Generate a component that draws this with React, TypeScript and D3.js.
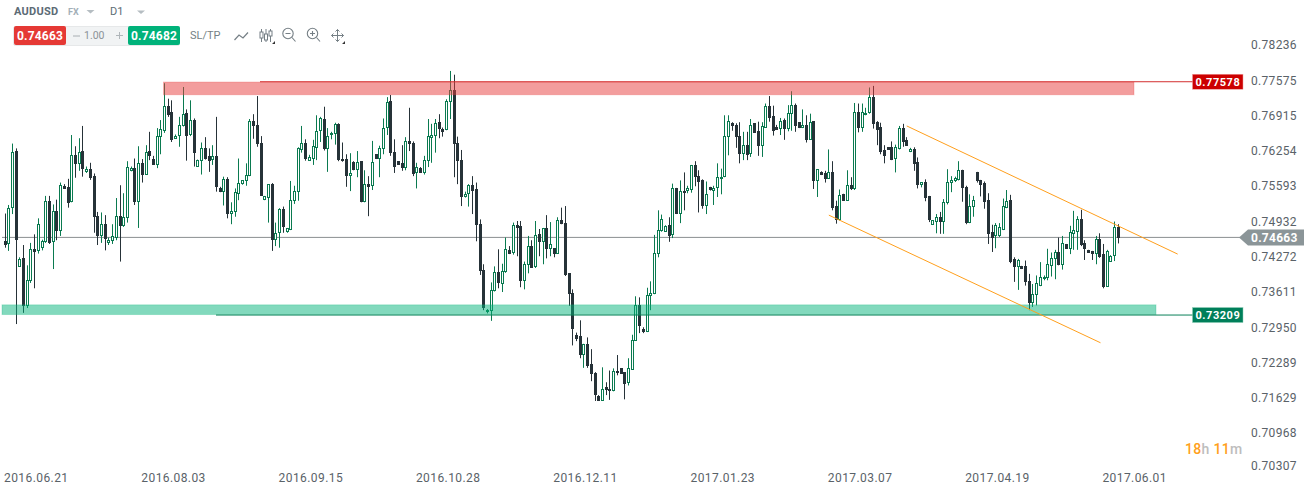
import React from "react";
import * as d3 from "d3";

// Prices in units of 0.0001, one entry per daily candle
const opens = [
7459,7453,7521,7628,7411,7427,7338,7385,7444,7440,7447,7457,7534,7457,7516,7479,7562,7561,7532,7621,
7604,7628,7589,7594,7581,7507,7469,7492,7456,7460,7466,7507,7488,7502,7591,7597,7533,7605,7584,7628,
7614,7602,7654,7666,7712,7701,7651,7656,7674,7699,7658,7686,7599,7609,7633,7618,7612,7618,7558,7552,
7575,7511,7513,7548,7566,7571,7582,7684,7676,7644,7536,7541,7566,7462,7474,7519,7476,7481,7535,7552,
7630,7644,7610,7614,7634,7665,7688,7631,7658,7659,7678,7614,7613,7582,7607,7593,7609,7533,7566,7563,
7622,7614,7631,7671,7721,7626,7609,7605,7597,7647,7644,7586,7597,7587,7609,7653,7656,7682,7669,7667,
7719,7742,7644,7612,7542,7547,7564,7556,7492,7406,7327,7329,7365,7402,7379,7402,7442,7437,7489,7487,
7385,7414,7451,7410,7472,7458,7484,7445,7446,7436,7499,7493,7399,7363,7283,7281,7246,7266,7229,7213,
7170,7160,7186,7183,7179,7217,7221,7214,7193,7218,7273,7339,7294,7289,7357,7361,7436,7479,7477,7489,
7470,7558,7510,7554,7554,7555,7601,7582,7573,7526,7560,7554,7558,7577,7579,7655,7680,7676,7657,7623,
7640,7622,7680,7665,7638,7672,7712,7693,7673,7670,7687,7669,7698,7715,7682,7672,7676,7649,7684,7571,
7588,7586,7576,7588,7525,7498,7548,7535,7565,7557,7702,7672,7697,7700,7729,7682,7673,7630,7635,7635,
7613,7632,7671,7648,7627,7631,7607,7565,7570,7543,7490,7496,7505,7496,7530,7568,7572,7573,7593,7561,
7493,7524,7588,7573,7568,7536,7476,7468,7468,7481,7522,7536,7426,7410,7413,7413,7384,7343,7358,7376,
7389,7391,7413,7425,7439,7415,7453,7445,7473,7477,7501,7455,7443,7441,7435,7463,7436,7374,7421,7431,7486,
];
const highs = [
7511,7527,7642,7633,7429,7452,7414,7456,7472,7502,7462,7544,7544,7528,7537,7569,7566,7576,7658,7637,
7652,7675,7599,7606,7586,7514,7513,7508,7466,7491,7540,7564,7549,7609,7599,7614,7637,7613,7639,7664,
7619,7671,7686,7755,7726,7723,7659,7692,7748,7706,7723,7689,7612,7644,7654,7633,7639,7692,7561,7580,
7579,7532,7558,7614,7573,7605,7688,7697,7731,7656,7544,7566,7568,7494,7521,7524,7484,7572,7563,7635,
7675,7650,7621,7649,7695,7692,7711,7671,7664,7681,7680,7644,7622,7624,7609,7628,7609,7592,7581,7647,
7622,7638,7689,7729,7733,7650,7609,7639,7654,7709,7646,7606,7598,7619,7688,7679,7688,7697,7672,7725,
7778,7771,7655,7630,7552,7566,7581,7569,7500,7416,7332,7382,7412,7444,7417,7466,7450,7494,7497,7497,
7421,7469,7461,7497,7482,7484,7508,7495,7446,7504,7522,7525,7399,7369,7288,7311,7267,7279,7257,7214,
7171,7223,7195,7217,7221,7246,7221,7214,7240,7284,7356,7354,7298,7372,7384,7471,7517,7509,7489,7504,
7567,7559,7573,7588,7563,7602,7609,7592,7575,7571,7561,7563,7605,7595,7695,7695,7682,7680,7682,7664,
7664,7688,7680,7683,7682,7717,7731,7713,7677,7690,7689,7714,7740,7717,7682,7706,7695,7698,7684,7594,
7590,7591,7631,7609,7535,7556,7548,7592,7579,7718,7717,7717,7709,7747,7750,7684,7681,7639,7635,7646,
7640,7675,7679,7654,7634,7635,7616,7570,7575,7544,7498,7510,7514,7538,7594,7581,7580,7609,7593,7563,
7547,7544,7589,7574,7571,7549,7490,7493,7493,7539,7555,7546,7429,7426,7413,7423,7398,7379,7395,7420,
7395,7445,7438,7443,7466,7469,7454,7488,7516,7506,7518,7461,7443,7441,7469,7474,7454,7443,7433,7496,7491,
];
const lows = [
7447,7441,7510,7304,7411,7325,7334,7381,7371,7436,7442,7456,7454,7407,7461,7469,7557,7522,7532,7578,
7591,7580,7587,7574,7475,7452,7456,7442,7452,7454,7461,7421,7486,7494,7590,7527,7484,7569,7584,7611,
7602,7596,7622,7662,7692,7645,7651,7636,7674,7610,7656,7599,7599,7584,7612,7589,7602,7552,7551,7526,
7502,7491,7505,7536,7565,7563,7581,7651,7636,7544,7536,7494,7441,7450,7447,7475,7475,7480,7529,7535,
7625,7610,7610,7602,7611,7645,7629,7589,7650,7640,7609,7608,7561,7553,7592,7579,7532,7532,7506,7555,
7613,7579,7622,7658,7619,7587,7602,7591,7592,7628,7581,7558,7587,7584,7598,7606,7625,7652,7655,7667,
7688,7579,7566,7525,7541,7524,7510,7459,7396,7330,7324,7310,7365,7371,7364,7400,7435,7434,7431,7373,
7369,7399,7409,7409,7431,7416,7427,7431,7429,7436,7491,7394,7338,7264,7272,7240,7222,7222,7197,7160,
7160,7160,7171,7162,7178,7208,7211,7163,7189,7218,7273,7287,7287,7289,7330,7360,7429,7477,7477,7458,
7465,7510,7493,7517,7549,7550,7562,7513,7520,7510,7554,7527,7542,7547,7579,7620,7666,7634,7605,7611,
7611,7617,7662,7619,7617,7672,7683,7657,7668,7658,7649,7665,7666,7664,7671,7671,7644,7649,7557,7542,
7583,7569,7576,7517,7492,7498,7535,7535,7555,7555,7663,7664,7695,7698,7670,7639,7622,7605,7630,7611,
7588,7631,7636,7638,7626,7591,7558,7560,7534,7495,7490,7474,7473,7473,7528,7551,7570,7573,7533,7491,
7493,7505,7569,7543,7520,7454,7439,7446,7467,7480,7521,7418,7383,7368,7407,7376,7330,7336,7339,7375,
7386,7386,7393,7388,7414,7406,7445,7435,7443,7443,7450,7424,7438,7424,7416,7428,7371,7374,7421,7422,7455,
];
const closes = [
7452,7522,7627,7462,7425,7338,7387,7444,7439,7492,7459,7534,7456,7515,7478,7564,7557,7531,7620,7604,
7627,7595,7594,7578,7505,7469,7492,7464,7462,7469,7507,7488,7504,7599,7597,7533,7605,7584,7627,7619,
7602,7656,7669,7712,7696,7649,7656,7676,7697,7657,7686,7625,7611,7633,7614,7610,7618,7560,7552,7575,
7511,7515,7551,7569,7573,7584,7684,7674,7641,7544,7543,7566,7462,7474,7519,7486,7483,7537,7554,7633,
7644,7614,7616,7637,7665,7690,7631,7656,7661,7678,7612,7609,7582,7586,7593,7607,7533,7566,7561,7607,
7613,7633,7672,7719,7624,7599,7602,7597,7646,7642,7585,7599,7587,7612,7656,7658,7680,7670,7664,7721,
7742,7642,7610,7542,7548,7565,7554,7490,7404,7334,7331,7367,7402,7380,7404,7444,7436,7489,7484,7385,
7416,7451,7409,7471,7458,7483,7444,7453,7436,7498,7492,7396,7361,7295,7276,7246,7266,7226,7210,7171,
7160,7183,7181,7179,7217,7212,7211,7192,7221,7275,7339,7301,7289,7359,7363,7438,7481,7500,7487,7469,
7558,7510,7554,7550,7558,7601,7580,7570,7525,7548,7555,7558,7580,7580,7657,7684,7674,7655,7623,7640,
7620,7676,7662,7638,7674,7712,7690,7665,7668,7685,7669,7700,7715,7675,7671,7676,7649,7682,7571,7594,
7584,7575,7588,7521,7498,7546,7535,7565,7556,7702,7672,7702,7700,7729,7679,7667,7626,7619,7630,7611,
7635,7671,7645,7638,7631,7603,7565,7570,7541,7499,7498,7505,7495,7532,7570,7573,7577,7592,7558,7493,
7526,7536,7571,7565,7533,7473,7466,7489,7485,7525,7535,7421,7410,7424,7407,7383,7343,7360,7381,7393,
7393,7416,7427,7439,7415,7456,7445,7476,7480,7501,7452,7445,7438,7435,7463,7430,7373,7440,7432,7486,7466,
];

const priceTicks = ["0.78236","0.77575","0.76915","0.76254","0.75593","0.74932","0.74272","0.73611","0.72950","0.72289","0.71629","0.70968","0.70307"];
const dateLabels = ["2016.06.21","2016.08.03","2016.09.15","2016.10.28","2016.12.11","2017.01.23","2017.03.07","2017.04.19","2017.06.01"];
const dateStep = 37;
const symbol = "AUDUSD";
const bid = "0.74663";
const ask = "0.74682";
const resistance = "0.77578";
const support = "0.73209";
const resistanceZoneBottom = 0.7734;
const supportZoneTop = 0.7340;
// Trend channel: [candle index, price]
const channelUpper = [[243, 0.7675], [316, 0.7435]];
const channelLower = [[222, 0.7508], [295.2, 0.7269]];

const FONT = "Roboto, sans-serif";
const DARK = "#263238";
const GREEN = "#0a7a50";
const ORANGE = "#ff9f1c";

const x = d3.scaleLinear().domain([0, 300]).range([5, 1118.3]);
const y = d3.scaleLinear().domain([0.78236, 0.70307]).range([46.6, 470]);
const px = (v: number) => y(v / 1e4);
const trend = d3.line<number[]>().x((d) => x(d[0])).y((d) => y(d[1]));

function Candle({ i }: { i: number }) {
  const col = Math.floor(x(i));
  const up = closes[i] > opens[i];
  const c = up ? GREEN : DARK;
  const top = Math.round(px(Math.max(opens[i], closes[i])));
  const bot = Math.max(Math.round(px(Math.min(opens[i], closes[i]))), top + 2);
  return (
    <g>
      <line x1={col + 0.5} x2={col + 0.5} y1={px(highs[i])} y2={px(lows[i])} stroke={c} strokeWidth={1} />
      {up ? (
        <rect x={col - 0.5} y={top + 0.5} width={2} height={bot - top - 1} fill="#fff" stroke={c} strokeWidth={1} />
      ) : (
        <rect x={col - 1} y={top} width={3} height={bot - top} fill={c} />
      )}
    </g>
  );
}

export default function App() {
  const yBid = y(+bid);
  const yRes = y(+resistance);
  const ySup = y(+support);
  const gray = "#757f85";
  return (
    <svg width={1304} height={494} style={{ position: "absolute", left: 0, top: 0, background: "#fff" }} fontFamily={FONT}>
      {/* current price line */}
      <line x1={2} x2={1240} y1={yBid} y2={yBid} stroke="#8a8f91" strokeWidth={1} />

      {opens.map((_, i) => <Candle key={i} i={i} />)}

      {/* zones */}
      <rect x={163.5} y={yRes + 0.3} width={970.5} height={y(resistanceZoneBottom) - yRes} fill="rgba(232,60,60,0.5)" stroke="rgba(232,60,60,0.25)" strokeWidth={1} />
      <line x1={260} x2={1193} y1={yRes} y2={yRes} stroke="#d32f2f" strokeWidth={1} />
      <rect x={2} y={y(supportZoneTop)} width={1154} height={ySup - y(supportZoneTop) - 0.5} fill="rgba(0,178,120,0.49)" stroke="rgba(0,178,120,0.25)" strokeWidth={1} />
      <line x1={216} x2={1193} y1={ySup} y2={ySup} stroke="#0a8058" strokeWidth={1} />

      {/* channel */}
      <path d={trend(channelUpper) ?? ""} stroke={ORANGE} strokeWidth={1} fill="none" />
      <path d={trend(channelLower) ?? ""} stroke={ORANGE} strokeWidth={1} fill="none" />

      {/* price axis */}
      {priceTicks.map((t, i) => (
        <text key={t} x={1251} y={Math.min(y(+t) - 1.6, 465.5)} dy="0.36em" fontSize={12} fill="#5a6268" letterSpacing={0.32}>{t}</text>
      ))}
      {/* date axis */}
      {dateLabels.map((d, i) => (
        <text key={d} x={x(i * dateStep) - 1} y={482} fontSize={12} fill="#5a6268" letterSpacing={0.42}>{d}</text>
      ))}

      {/* level tags */}
      <rect x={1192.5} y={yRes - 7.5} width={50.5} height={15} fill="#cc0000" stroke="#f0a0a0" strokeWidth={0.5} />
      <text x={1217.9} y={yRes + 0.3} dy="0.36em" textAnchor="middle" fontSize={11} fontWeight={700} fill="#fff" letterSpacing={0.55}>{resistance}</text>
      <rect x={1192.5} y={ySup - 7.5} width={50.5} height={15} fill="#007f5a" stroke="#8fd0b8" strokeWidth={0.5} />
      <text x={1217.9} y={ySup + 0.3} dy="0.36em" textAnchor="middle" fontSize={11} fontWeight={700} fill="#fff" letterSpacing={0.55}>{support}</text>

      {/* current price tag */}
      <path d={`M1239,${yBid} L1248,${yBid - 8} H1304 V${yBid + 8} H1248 Z`} fill="#8b9598" />
      <text x={1251} y={yBid} dy="0.36em" fontSize={12} fontWeight={700} fill="#fff" letterSpacing={0.25}>{bid}</text>

      {/* countdown */}
      <text x={1185} y={454} fontSize={14} fontWeight={500} fill="#bdbdbd" letterSpacing={0.3}>
        <tspan fill={ORANGE}>18</tspan>h <tspan fill={ORANGE}>11</tspan>m
      </text>

      {/* toolbar */}
      <text x={14} y={15} fontSize={11} fontWeight={700} fill="#5c6b75" letterSpacing={0.25}>{symbol}</text>
      <text x={68} y={15} fontSize={9} fontWeight={700} fill="#a3b0b8">FX</text>
      <path d="M86.5,10 h8 l-4,3.5 z M137,10.5 h8 l-4,3.5 z" fill="#b5bdc2" />
      <text x={110} y={15} fontSize={11} fill="#5c6b75">D1</text>

      <rect x={13.5} y={26.5} width={166} height={19} fill="#f1f3f4" stroke="#e6e8e9" strokeWidth={1} rx={2} />
      <rect x={14} y={26} width={52} height={19} rx={2} fill="#e53935" />
      <rect x={128} y={26} width={52} height={19} rx={2} fill="#00b27a" />
      <text x={40} y={35.5} dy="0.36em" textAnchor="middle" fontSize={12} fontWeight={700} fill="#fff" letterSpacing={0.2}>{bid}</text>
      <text x={154} y={35.5} dy="0.36em" textAnchor="middle" fontSize={12} fontWeight={700} fill="#fff" letterSpacing={0.2}>{ask}</text>
      <path d="M73,36 h7" stroke="#a8aeb2" strokeWidth={1} />
      <text x={84} y={35.5} dy="0.36em" fontSize={10.5} fill="#8b9297">1.00</text>
      <path d="M116,35.5 h7 M119.5,32 v7" stroke="#b0b6ba" strokeWidth={1} />
      <text x={190} y={35.5} dy="0.36em" fontSize={11} fill={gray}>SL/TP</text>

      {/* toolbar icons */}
      <path d="M234.5,40 L239,35 L243,38 L248,32.5" stroke={gray} strokeWidth={1.2} fill="none" />
      <path d="M261.5,29 V42 M266,29 V42 M270.5,29 V42" stroke={gray} strokeWidth={1} />
      <rect x={260} y={32} width={3} height={6} fill="#fff" stroke={gray} />
      <rect x={264.5} y={34} width={3} height={6} fill="#fff" stroke={gray} />
      <rect x={269} y={31} width={3} height={5} fill="#fff" stroke={gray} />
      <path d="M272,44 l3,0 l0,-3 z M345,44 l-3,0 l3,-3 z" fill="#333" />
      <circle cx={288} cy={33.5} r={5.2} fill="none" stroke={gray} strokeWidth={1.1} />
      <path d="M285.5,33.5 h5 M292,37.5 L295.5,41.5" stroke={gray} strokeWidth={1.1} />
      <circle cx={312.5} cy={33.5} r={5.2} fill="none" stroke={gray} strokeWidth={1.1} />
      <path d="M310,33.5 h5 M312.5,31 v5 M316.5,37.5 L320,41.5" stroke={gray} strokeWidth={1.1} />
      <path d="M331.5,35.5 h12 M337.5,29.5 v12 M333.5,33.5 l-2,2 l2,2 M341.5,33.5 l2,2 l-2,2 M335.5,31.5 l2,-2 l2,2 M335.5,39.5 l2,2 l2,-2" stroke={gray} strokeWidth={1} fill="none" />
    </svg>
  );
}
